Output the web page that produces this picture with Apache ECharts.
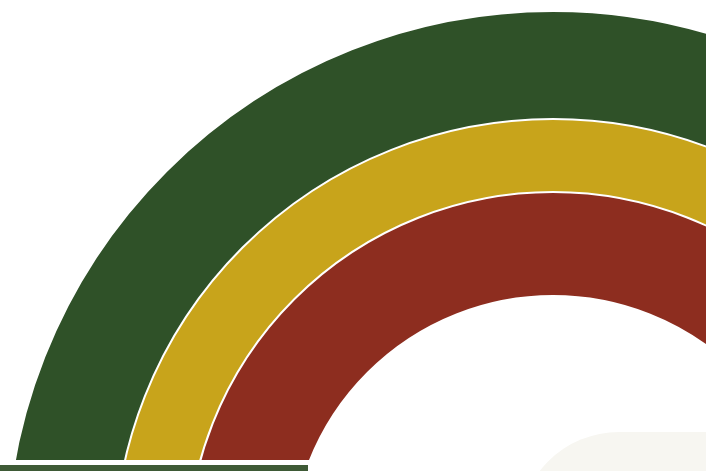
<!DOCTYPE html>
<html>
<head>
<meta charset="utf-8">
<script src="https://cdn.jsdelivr.net/npm/echarts@6/dist/echarts.min.js"></script>
<style>html,body{margin:0;padding:0;background:#fff}#c{width:706px;height:471px}</style>
</head>
<body>
<div id="c"></div>
<script>
var categories = ['Outer', 'Middle', 'Inner'];
var values = [1, 1, 1];
var colors = ['#2f5128', '#c8a41b', '#8d2d1f'];
var radii = [[437, 547], [364, 439], [262, 366]];

var chart = echarts.init(document.getElementById('c'), null, {renderer: 'canvas'});
var series = categories.map(function (name, i) {
  return {
    type: 'pie',
    name: name,
    center: [553, 558],
    radius: radii[i],
    silent: true,
    animation: false,
    label: {show: false},
    labelLine: {show: false},
    itemStyle: {color: colors[i], borderColor: '#ffffff', borderWidth: 2},
    data: [{name: name, value: values[i]}]
  };
});
chart.setOption({
  backgroundColor: '#ffffff',
  animation: false,
  series: series,
  graphic: [
    {type: 'rect', z: 100, shape: {x: 0, y: 460, width: 706, height: 11}, style: {fill: '#ffffff'}},
    {type: 'rect', z: 101, shape: {x: 519, y: 432, width: 300, height: 200, r: 108}, style: {fill: '#f7f6f1'}},
    {type: 'rect', z: 102, shape: {x: 0, y: 465, width: 308, height: 6}, style: {fill: '#3e5a36'}}
  ]
});
</script>
</body>
</html>
